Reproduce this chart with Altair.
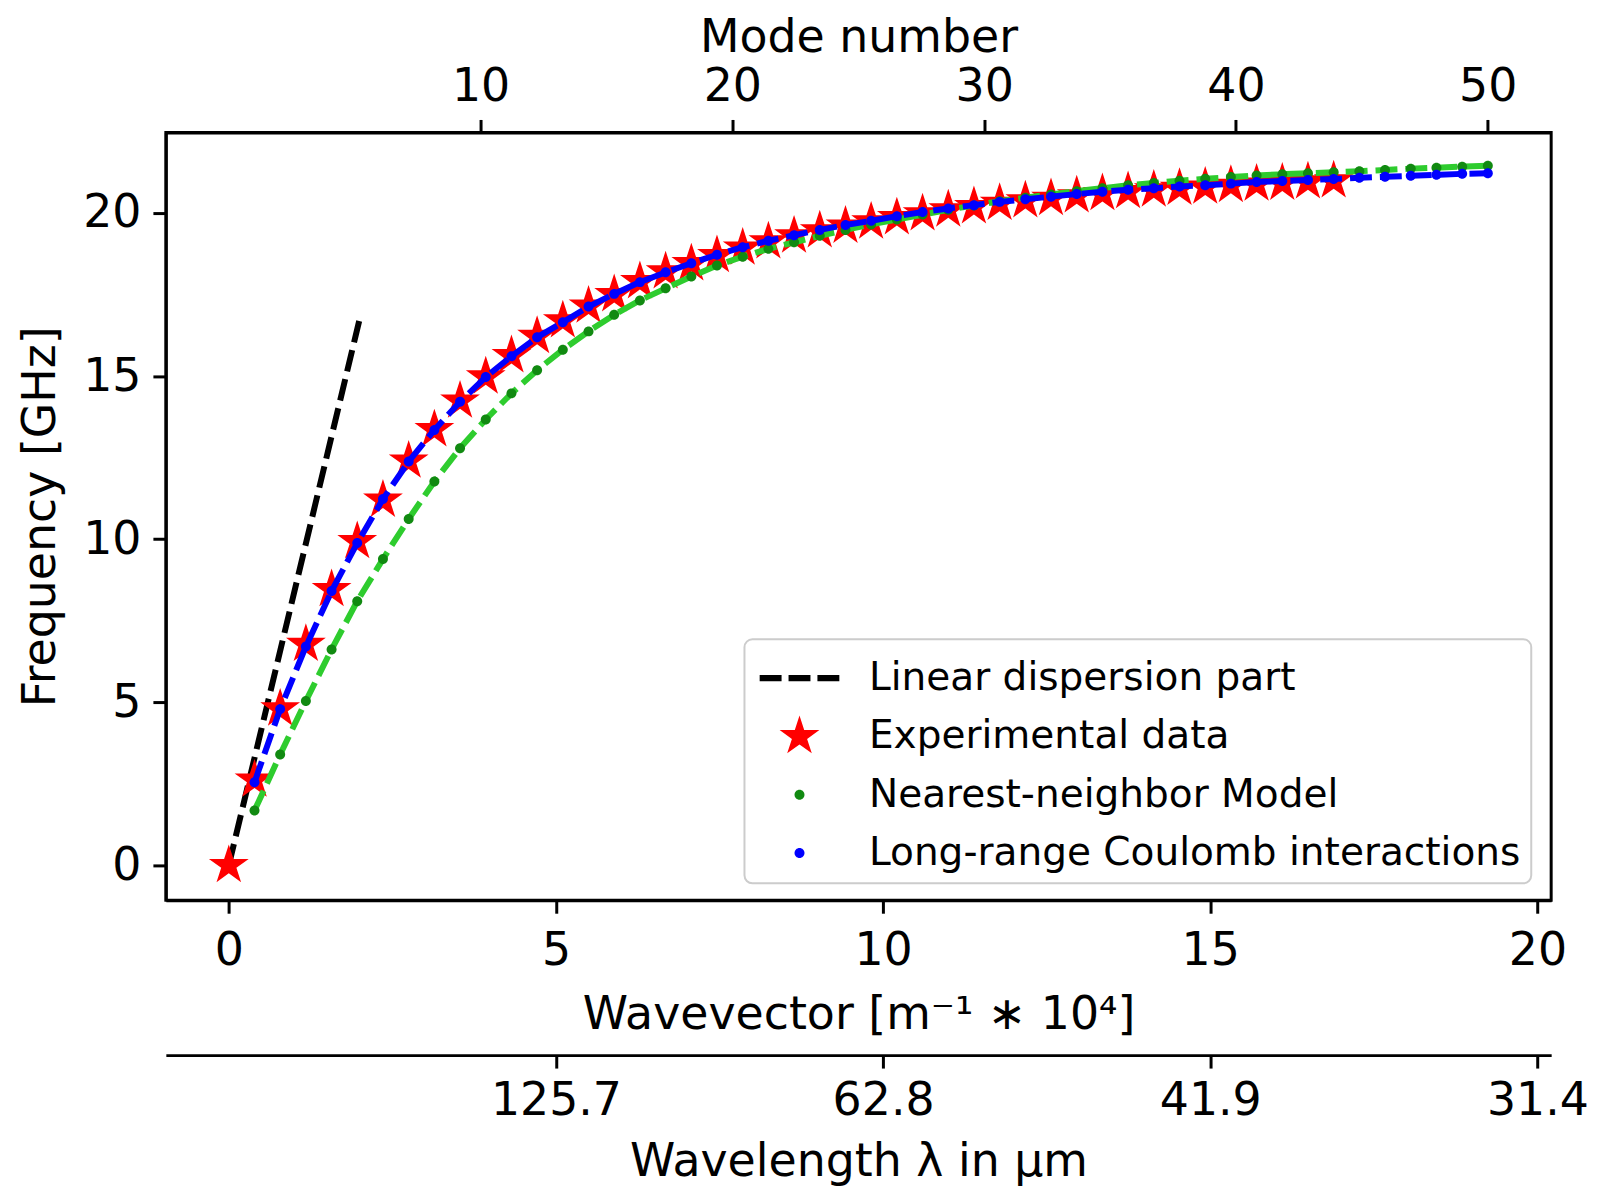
import altair as alt
import pandas as pd
import numpy as np

FONT = "DejaVu Sans"

SERIES = ["Linear dispersion part", "Experimental data",
          "Nearest-neighbor Model", "Long-range Coulomb interactions"]
COLORS = ["#000000", "#ff0000", "#118a11", "#0000ff"]

# wavevector positions of the model points (10^4 m^-1)
MODEL_K = [0.393, 0.785, 1.178, 1.571, 1.963, 2.356, 2.749, 3.142, 3.534, 3.927,
           4.320, 4.712, 5.105, 5.498, 5.890, 6.283, 6.676, 7.069, 7.461, 7.854,
           8.247, 8.639, 9.032, 9.425, 9.817, 10.210, 10.603, 10.996, 11.388, 11.781,
           12.174, 12.566, 12.959, 13.352, 13.744, 14.137, 14.530, 14.923, 15.315, 15.708,
           16.101, 16.493, 16.886, 17.279, 17.671, 18.064, 18.457, 18.850, 19.242]

NN_F = [1.68, 3.40, 5.04, 6.62, 8.10, 9.39, 10.62, 11.77, 12.79, 13.67,
        14.47, 15.18, 15.81, 16.37, 16.88, 17.32, 17.69, 18.05, 18.39, 18.66,
        18.90, 19.10, 19.30, 19.48, 19.65, 19.80, 19.95, 20.10, 20.23, 20.36,
        20.47, 20.57, 20.67, 20.76, 20.85, 20.92, 20.99, 21.05, 21.10, 21.15,
        21.19, 21.22, 21.25, 21.28, 21.32, 21.36, 21.39, 21.42, 21.45]

LR_F = [2.55, 4.79, 6.71, 8.41, 9.88, 11.23, 12.38, 13.35, 14.21, 14.97,
        15.61, 16.19, 16.65, 17.13, 17.52, 17.88, 18.18, 18.46, 18.72, 18.95,
        19.15, 19.32, 19.48, 19.63, 19.76, 19.90, 20.03, 20.14, 20.24, 20.34,
        20.42, 20.50, 20.58, 20.65, 20.71, 20.76, 20.81, 20.85, 20.90, 20.95,
        20.98, 21.01, 21.04, 21.08, 21.11, 21.14, 21.17, 21.20, 21.22]

EXP_K = [0.0] + MODEL_K[:43]
EXP_F = [0.0, 2.62, 4.80, 6.78, 8.46, 9.93, 11.20, 12.40, 13.36, 14.24,
         14.98, 15.63, 16.22, 16.70, 17.15, 17.50, 17.90, 18.20, 18.45, 18.70,
         18.93, 19.12, 19.30, 19.46, 19.60, 19.73, 19.86, 19.98, 20.10, 20.20,
         20.30, 20.38, 20.45, 20.53, 20.60, 20.66, 20.71, 20.76, 20.80, 20.85,
         20.89, 20.92, 20.96, 20.99]

LIN_K = [0.0, 2.0]
LIN_F = [0.0, 16.75]

X_TICKS = [0, 5, 10, 15, 20]
Y_TICKS = [0, 5, 10, 15, 20]
MODE_TICKS = [10, 20, 30, 40, 50]
MODE_K_PER_MODE = 19.24 / 50
WL_TICKS = [5, 10, 15, 20]
WL_LABELS = ["125.7", "62.8", "41.9", "31.4"]

# ---- symbol shapes (unit = SYM_PX/2 pixels) ----
SYM_PX = 57.5
SYM = SYM_PX * SYM_PX
U = SYM_PX / 2.0

def star_path(R, ratio=0.381966):
    pts = []
    for j in range(10):
        ang = np.pi / 2 + j * np.pi / 5
        r = R if j % 2 == 0 else R * ratio
        pts.append((r * np.cos(ang), -r * np.sin(ang)))
    return "M" + "L".join(f"{x:.4f},{y:.4f}" for x, y in pts) + "Z"

def dash_path(total=80.0, dash=22.0, thick=6.4):
    gap = (total - 3 * dash) / 2.0
    h = thick / 2 / U
    segs = []
    x0 = -total / 2
    for _ in range(3):
        a, b = x0 / U, (x0 + dash) / U
        segs.append(f"M{a:.4f},{-h:.4f}H{b:.4f}V{h:.4f}H{a:.4f}Z")
        x0 += dash + gap
    return " ".join(segs)

def dot_path(rpx=5.0):
    r = rpx / U
    return f"M{-r:.4f},0A{r:.4f},{r:.4f},0,1,0,{r:.4f},0A{r:.4f},{r:.4f},0,1,0,{-r:.4f},0Z"

DASH = dash_path()
STAR = star_path(21.0 / U)
DOT = dot_path()

lin_df = pd.DataFrame({"k": LIN_K, "f": LIN_F, "series": SERIES[0]})
exp_df = pd.DataFrame({"k": EXP_K, "f": EXP_F, "series": SERIES[1]})
nn_df = pd.DataFrame({"k": MODEL_K, "f": NN_F, "series": SERIES[2]})
lr_df = pd.DataFrame({"k": MODEL_K, "f": LR_F, "series": SERIES[3]})

x_scale = alt.Scale(domain=[-0.962, 20.21], nice=False, zero=False)
y_scale = alt.Scale(domain=[-1.07, 22.47], nice=False, zero=False)
color_scale = alt.Scale(domain=SERIES, range=COLORS)
shape_scale = alt.Scale(domain=SERIES, range=[DASH, STAR, DOT, DOT])

def near_expr(ticks, labels):
    expr = "''"
    for t, l in reversed(list(zip(ticks, labels))):
        expr = f"abs(datum.value - {t}) < 0.01 ? '{l}' : ({expr})"
    return expr

mode_pos = [round(n * MODE_K_PER_MODE, 4) for n in MODE_TICKS]

main_x_axis = alt.Axis(orient="bottom", values=X_TICKS,
                       title="Wavevector [m\u207b\u00b9 \u2217 10\u2074]",
                       labelBaseline="alphabetic", labelPadding=51.5,
                       titleBaseline="alphabetic", titleY=128.5,
                       labelFlush=False)
mode_axis = alt.Axis(orient="top", values=mode_pos,
                     labelExpr=near_expr(mode_pos, [str(n) for n in MODE_TICKS]),
                     title="Mode number",
                     labelBaseline="alphabetic", labelPadding=19.5,
                     titleBaseline="alphabetic", titleY=-81.5,
                     labelFlush=False)
wl_axis = alt.Axis(orient="bottom", offset=155.5, values=WL_TICKS,
                   labelExpr=near_expr(WL_TICKS, WL_LABELS),
                   title="Wavelength \u03bb in \u03bcm",
                   labelBaseline="alphabetic", labelPadding=47,
                   titleBaseline="alphabetic", titleY=121,
                   labelFlush=False)
y_axis = alt.Axis(orient="left", values=Y_TICKS, title="Frequency [GHz]",
                  labelPadding=12,
                  titleX=-111.5, titleY=385.5, titleAngle=270,
                  titleBaseline="alphabetic", titleAlign="center",
                  labelFlush=False)

leg = alt.Legend(title=None, orient="none", legendX=581, legendY=509)

def xenc(axis=None):
    return alt.X("k:Q", scale=x_scale, axis=axis)

def yenc(axis=None):
    return alt.Y("f:Q", scale=y_scale, axis=axis)

def line_layer(df, color, xaxis=None, yaxis=None):
    return alt.Chart(df).mark_line(color=color, strokeWidth=6,
                                   strokeDash=[22, 8]).encode(
        x=xenc(xaxis), y=yenc(yaxis))

def point_layer(df, xaxis=None):
    return alt.Chart(df).mark_point(filled=True, opacity=1, size=SYM,
                                    strokeWidth=0).encode(
        x=xenc(xaxis), y=yenc(None),
        color=alt.Color("series:N", scale=color_scale, legend=leg),
        shape=alt.Shape("series:N", scale=shape_scale, legend=leg))

chart = alt.layer(
    line_layer(lin_df, "#000000", main_x_axis, y_axis),
    point_layer(exp_df, mode_axis),
    line_layer(nn_df, "#2ecc2e", wl_axis),
    point_layer(nn_df),
    line_layer(lr_df, "#0000ff"),
    point_layer(lr_df),
).resolve_axis(x="independent", y="independent").properties(
    width=1391, height=771,
    autosize=alt.AutoSizeParams(type="none"),
    padding={"left": 158.5, "top": 122.5, "right": 40, "bottom": 288.5},
    background="white",
).configure_view(
    stroke="black", strokeWidth=3
).configure_axis(
    labelFont=FONT, titleFont=FONT, labelFontSize=46, titleFontSize=46,
    labelColor="black", titleColor="black", titleFontWeight="normal",
    tickColor="black", domainColor="black", tickWidth=3, domainWidth=3,
    tickSize=13, grid=False
).configure_legend(
    labelFont=FONT, labelFontSize=39.2, labelColor="black", labelLimit=0,
    padding=10, rowPadding=8.5, symbolOffset=16.25, labelOffset=40.75,
    strokeColor="#cccccc", strokeWidth=2, fillColor="rgba(255,255,255,0.8)",
    cornerRadius=8, symbolSize=SYM, symbolStrokeWidth=0, symbolOpacity=1
)

chart.save("out.html", embed_options={"renderer": "svg", "actions": False})
